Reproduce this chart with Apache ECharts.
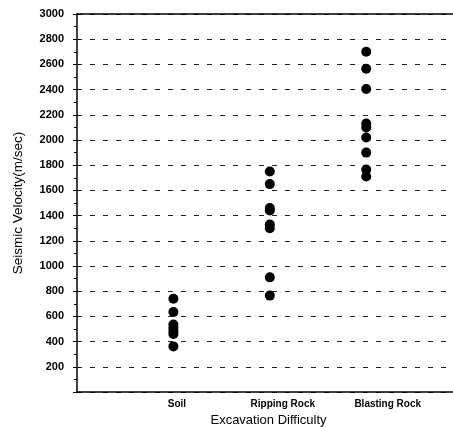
<!DOCTYPE html>
<html>
<head>
<meta charset="utf-8">
<script src="https://cdn.jsdelivr.net/npm/echarts@6/dist/echarts.min.js"></script>
<style>html,body{margin:0;padding:0;background:#fff}#c{width:453px;height:427px}</style>
</head>
<body>
<div id="c"></div>
<script>
const categories = ['Soil', 'Ripping Rock', 'Blasting Rock'];
const soil = [740, 635, 535, 510, 485, 460, 362];
const rippingRock = [1750, 1650, 1460, 1440, 1330, 1300, 910, 765];
const blastingRock = [2700, 2565, 2405, 2130, 2100, 2020, 1900, 1765, 1710];
const yTicks = [200, 400, 600, 800, 1000, 1200, 1400, 1600, 1800, 2000, 2200, 2400, 2600, 2800, 3000];

const groups = [soil, rippingRock, blastingRock];
const points = [];
groups.forEach((vals, i) => vals.forEach(v => points.push([i + 1, v])));

const font = 'Liberation Sans, Arial, sans-serif';
// label styles: the reference prints category labels slightly right of the dot columns
const labelStyle = {fontFamily: font, fontSize: 10, fontWeight: 'bold', color: '#000'};
const rich = {
  c0: Object.assign({padding: [0, 0, 0, 7]}, labelStyle),
  c1: Object.assign({padding: [0, 0, 0, 26]}, labelStyle),
  c2: Object.assign({padding: [0, 0, 0, 43]}, labelStyle)
};
const chart = echarts.init(document.getElementById('c'), null, {renderer: 'canvas'});
chart.setOption({
  animation: false,
  backgroundColor: '#fff',
  grid: {left: 77, right: 0, top: 14, bottom: 35, containLabel: false, outerBoundsMode: 'none'},
  xAxis: [{
    type: 'value', min: 0, max: 3.9, interval: 1,
    name: 'Excavation Difficulty', nameLocation: 'middle', nameGap: 20,
    nameTextStyle: {fontFamily: font, fontSize: 13, color: '#000', padding: [0, 0, 0, 7]},
    axisLine: {show: true, onZero: false, lineStyle: {color: '#000', width: 1.5}},
    axisTick: {show: false},
    splitLine: {show: false},
    axisLabel: {
      margin: 7, fontFamily: font, fontSize: 10, fontWeight: 'bold', color: '#000',
      showMaxLabel: false, rich: rich,
      formatter: v => (Number.isInteger(v) && v >= 1 && v <= categories.length) ? '{c' + (v - 1) + '|' + categories[v - 1] + '}' : ''
    }
  }, {
    type: 'value', min: 0, max: 3.9, position: 'top',
    axisLine: {show: true, onZero: false, lineStyle: {color: '#000', width: 1.5}},
    axisTick: {show: false}, axisLabel: {show: false}, splitLine: {show: false}
  }],
  yAxis: [{
    type: 'value', min: 0, max: 3000, interval: 200,
    name: 'Seismic Velocity(m/sec)', nameLocation: 'middle', nameGap: 52,
    nameTextStyle: {fontFamily: font, fontSize: 13.5, color: '#000'},
    axisLine: {show: true, onZero: false, lineStyle: {color: '#000', width: 1.5}},
    axisTick: {show: true, length: 4, lineStyle: {color: '#000'}},
    minorTick: {show: true, splitNumber: 2, length: 3, lineStyle: {color: '#000'}},
    splitLine: {show: true, lineStyle: {color: '#222', type: [5, 8], width: 1}},
    axisLabel: {
      margin: 13, fontFamily: font, fontSize: 11, fontWeight: 'bold', color: '#000',
      formatter: v => yTicks.includes(v) ? String(v) : ''
    }
  }, {
    type: 'value', min: 0, max: 3000, interval: 200, position: 'left',
    axisLine: {show: false, onZero: false},
    axisTick: {show: true, inside: true, length: 3, lineStyle: {color: '#000'}},
    axisLabel: {show: false}, splitLine: {show: false}
  }],
  series: [{
    type: 'scatter',
    data: points,
    symbol: 'circle',
    symbolSize: 10,
    itemStyle: {color: '#000', opacity: 1}
  }]
});
</script>
</body>
</html>
